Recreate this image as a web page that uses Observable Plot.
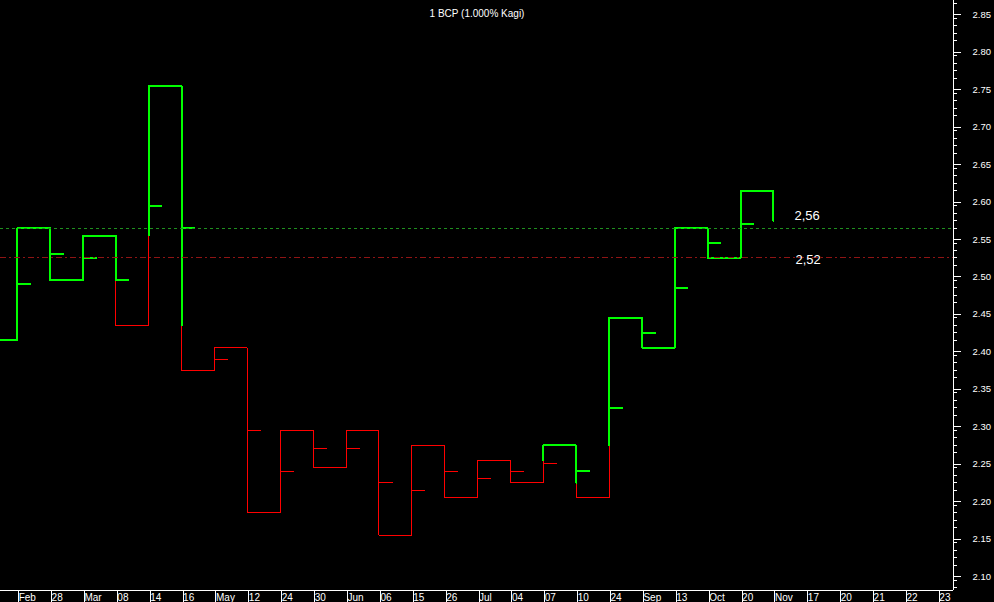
<!DOCTYPE html>
<html>
<head>
<meta charset="utf-8">
<script src="https://cdn.jsdelivr.net/npm/d3@7"></script>
<script src="https://cdn.jsdelivr.net/npm/@observablehq/plot@0.6"></script>
<style>
  html, body { margin: 0; padding: 0; background: #000; }
  #chart svg { display: block; }
</style>
</head>
<body>
<div id="chart"></div>
<script>
// ---- data ----
const chartTitle = "1 BCP (1.000% Kagi)";
const dateLabels = ["Feb","28","Mar","08","14","16","May","12","24","30","Jun","06","15","26","Jul",
                    "04","07","10","24","Sep","13","Oct","20","Nov","17","20","21","22","23"];
// Kagi turning levels: start level, then the level reached by each vertical (one per date column)
const kagiLevels = [2.41, 2.56, 2.49, 2.55, 2.43, 2.75, 2.37, 2.40, 2.18, 2.29, 2.24, 2.29, 2.15,
                    2.27, 2.20, 2.25, 2.22, 2.27, 2.20, 2.44, 2.40, 2.56, 2.52, 2.61, 2.57];
// small notch marks on each vertical
const notchValues = [2.485, 2.525, 2.52, 2.49, 2.59, 2.56, 2.385, 2.29, 2.235, 2.265, 2.265, 2.22,
                     2.21, 2.235, 2.225, 2.235, 2.245, 2.235, 2.32, 2.42, 2.48, 2.54, 2.565];
const refLevels = [2.56, 2.52];
const refLabels = ["2,56", "2,52"];
const yTickLabels = ["2.10","2.15","2.20","2.25","2.30","2.35","2.40","2.45","2.50","2.55",
                     "2.60","2.65","2.70","2.75","2.80","2.85"];

// ---- layout / style ----
const W = 994, H = 602;
const YANG = "#00ff00", YIN = "#ff0000";
const FONT = "'Liberation Sans', Arial, sans-serif";
const xDomain = [-0.508, 28.476];
const yDomain = [2.07607, 2.86379];
const CRISP = "crispEdges";

// ---- build kagi runs from the levels (yang/yin switching rule) ----
const rows = [];
const notches = [];
let yang = true, run = 0;
const push = (x, y) => rows.push({x, y, run, color: yang ? YANG : YIN});
push(xDomain[0], kagiLevels[0]);
push(0, kagiLevels[0]);
for (let i = 0; i < kagiLevels.length - 1; i++) {
  const a = kagiLevels[i], b = kagiLevels[i + 1];
  const prev = i > 0 ? kagiLevels[i - 1] : null;
  let split = null;
  if (prev !== null && b > a && !yang && b > prev) split = prev;
  if (prev !== null && b < a && yang && b < prev) split = prev;
  const colorBefore = yang;
  if (split !== null) {
    push(i, split);
    yang = !yang; run++;
    push(i, split);
  }
  push(i, b);
  if (i < kagiLevels.length - 2) push(i + 1, b);
  if (i < notchValues.length) {
    const v = notchValues[i];
    const c = split === null ? colorBefore : v >= split;
    notches.push({i, v, color: c ? YANG : YIN, w: c ? 2 : 1});
  }
}
const greenRows = rows.filter(d => d.color === YANG);
const redRows = rows.filter(d => d.color === YIN);

const yMajor = yTickLabels.map(Number);
const yMinor = d3.range(208, 287).map(v => v / 100).filter(v => Math.round(v * 100) % 5 !== 0);

const chart = Plot.plot({
  width: W, height: H,
  marginTop: 0, marginBottom: 12, marginLeft: 0, marginRight: 41,
  style: {background: "#000", color: "#fff", fontFamily: FONT, fontSize: "10px"},
  x: {domain: xDomain, axis: null},
  y: {domain: yDomain, axis: null},
  marks: [
    // kagi lines
    Plot.line(redRows, {x: "x", y: "y", z: "run", stroke: YIN, strokeWidth: 1, strokeLinejoin: "miter", shapeRendering: CRISP}),
    Plot.line(greenRows, {x: "x", y: "y", z: "run", stroke: YANG, strokeWidth: 2, strokeLinejoin: "miter", shapeRendering: CRISP}),
    // notches
    Plot.ruleY(notches, {y: "v", x1: "i", x2: d => d.i + 0.43, stroke: "color", strokeWidth: "w", shapeRendering: CRISP}),
    // reference lines
    Plot.ruleY([refLevels[0]], {stroke: "#1f8f1f", strokeDasharray: "3,3", strokeWidth: 1, shapeRendering: CRISP}),
    Plot.ruleY([refLevels[1]], {stroke: "#8f1414", strokeDasharray: "6,3,2,3", strokeWidth: 1, shapeRendering: CRISP}),
    Plot.text([refLabels[0]], {x: 23.64, y: refLevels[0], dy: -12,
                       textAnchor: "start", fill: "#fff", fontSize: 13}),
    Plot.text([refLabels[1]], {x: 23.67, y: refLevels[1], dy: 1.5,
                       textAnchor: "start", fill: "#fff", fontSize: 13}),
    // right y axis
    Plot.ruleX([xDomain[1]], {stroke: "#fff", shapeRendering: CRISP}),
    Plot.axisY({anchor: "right", ticks: yMajor, tickSize: 7, tickPadding: 12, shapeRendering: CRISP,
                tickFormat: d => yTickLabels[yMajor.indexOf(d)], dy: 4, fontSize: 9.5}),
    Plot.axisY({anchor: "right", ticks: yMinor, tickSize: 3, tickFormat: () => "", shapeRendering: CRISP}),
    // bottom date axis
    Plot.ruleY([yDomain[0]], {stroke: "#fff", shapeRendering: CRISP}),
    Plot.axisX({anchor: "bottom", ticks: d3.range(dateLabels.length), tickSize: 12, tickPadding: -9,
                shapeRendering: CRISP,
                tickFormat: i => dateLabels[i], textAnchor: "start", dx: 1.5, fontSize: 10}),
    // title
    Plot.text([chartTitle], {frameAnchor: "top", dy: 9, fill: "#fff", fontSize: 10})
  ]
});
document.getElementById("chart").appendChild(chart);
</script>
</body>
</html>
